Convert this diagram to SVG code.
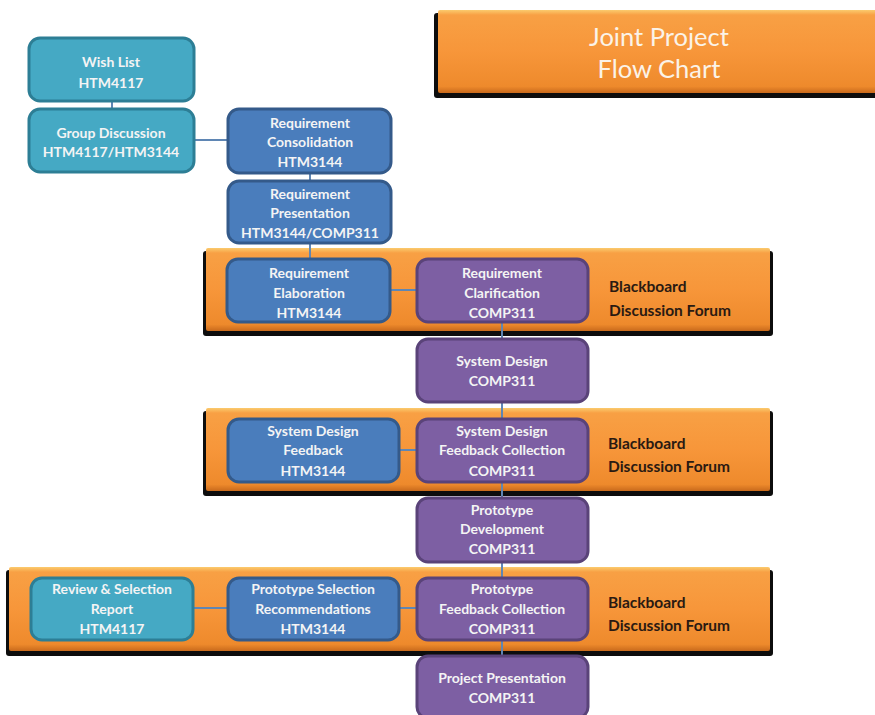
<svg xmlns="http://www.w3.org/2000/svg" width="875" height="715" viewBox="0 0 875 715">
<defs>
<linearGradient id="orange" x1="0" y1="0" x2="0" y2="1">
<stop offset="0" stop-color="#FBCB6E"/>
<stop offset="0.06" stop-color="#F8A044"/>
<stop offset="0.5" stop-color="#F7963A"/>
<stop offset="0.92" stop-color="#EE8A2C"/>
<stop offset="1" stop-color="#C96A1C"/>
</linearGradient>
</defs>
<style>
.shadow{fill:#0d0d0d}
.band{fill:url(#orange)}
.teal{fill:#45A9C4;stroke:#2D7E95;stroke-width:3}
.blue{fill:#4A7DBC;stroke:#345A8A;stroke-width:3}
.purple{fill:#7D5FA3;stroke:#5A4379;stroke-width:3}
.t{font-family:Lato,"Liberation Sans",sans-serif;font-weight:bold;font-size:14px;fill:#F4F4F4;text-anchor:middle;dominant-baseline:central}
.bb{font-family:Lato,"Liberation Sans",sans-serif;font-weight:bold;font-size:15.5px;fill:#2A1A12;dominant-baseline:central}
.title{font-family:Lato,"Liberation Sans",sans-serif;font-size:25.5px;fill:#FBF3E8;text-anchor:middle;dominant-baseline:central}
.c{stroke:#5F86B4;stroke-width:2;fill:none}
</style>

<g id="title">
<rect class="shadow" x="434" y="13" width="450" height="85" rx="3"/>
<rect class="band" x="438" y="10" width="445" height="83" rx="2"/>
<text class="title" x="659" y="36">Joint Project</text>
<text class="title" x="659" y="68">Flow Chart</text>
</g>

<g id="band1">
<rect class="shadow" x="203" y="251" width="570" height="85" rx="3"/>
<rect class="band" x="206" y="248" width="564" height="83" rx="2"/>
<text class="bb" x="609" y="286">Blackboard</text>
<text class="bb" x="609" y="310">Discussion Forum</text>
</g>
<g id="band2">
<rect class="shadow" x="203" y="411" width="570" height="85" rx="3"/>
<rect class="band" x="206" y="408" width="564" height="83" rx="2"/>
<text class="bb" x="608" y="443">Blackboard</text>
<text class="bb" x="608" y="466">Discussion Forum</text>
</g>
<g id="band3">
<rect class="shadow" x="6" y="570" width="767" height="86" rx="3"/>
<rect class="band" x="9" y="567" width="761" height="84" rx="2"/>
<text class="bb" x="608" y="602">Blackboard</text>
<text class="bb" x="608" y="625">Discussion Forum</text>
</g>

<g id="connectors">
<line class="c" x1="112" y1="101" x2="112" y2="109"/>
<line class="c" x1="195" y1="140" x2="227" y2="140"/>
<line class="c" x1="310" y1="173" x2="310" y2="180"/>
<line class="c" x1="310" y1="243" x2="310" y2="258"/>
<line class="c" x1="391" y1="290" x2="416" y2="290"/>
<line class="c" x1="502" y1="322" x2="502" y2="338"/>
<line class="c" x1="502" y1="402" x2="502" y2="418"/>
<line class="c" x1="400" y1="450" x2="416" y2="450"/>
<line class="c" x1="502" y1="482" x2="502" y2="497"/>
<line class="c" x1="502" y1="562" x2="502" y2="577"/>
<line class="c" x1="194" y1="608" x2="227" y2="608"/>
<line class="c" x1="400" y1="608" x2="416" y2="608"/>
<line class="c" x1="502" y1="640" x2="502" y2="655"/>
</g>

<g id="wish-list">
<rect class="teal" x="29" y="38" width="165" height="63" rx="11"/>
<text class="t" x="111" y="61">Wish List</text>
<text class="t" x="111" y="82">HTM4117</text>
</g>
<g id="group-discussion">
<rect class="teal" x="29" y="109" width="165" height="63" rx="11"/>
<text class="t" x="111" y="132">Group Discussion</text>
<text class="t" x="111" y="151">HTM4117/HTM3144</text>
</g>
<g id="req-consolidation">
<rect class="blue" x="228" y="109" width="163" height="64" rx="11"/>
<text class="t" x="310" y="122">Requirement</text>
<text class="t" x="310" y="141">Consolidation</text>
<text class="t" x="310" y="161">HTM3144</text>
</g>
<g id="req-presentation">
<rect class="blue" x="228" y="181" width="163" height="62" rx="11"/>
<text class="t" x="310" y="193">Requirement</text>
<text class="t" x="310" y="212">Presentation</text>
<text class="t" x="310" y="232">HTM3144/COMP311</text>
</g>
<g id="req-elaboration">
<rect class="blue" x="227" y="259" width="163" height="63" rx="11"/>
<text class="t" x="309" y="272">Requirement</text>
<text class="t" x="309" y="292">Elaboration</text>
<text class="t" x="309" y="312">HTM3144</text>
</g>
<g id="req-clarification">
<rect class="purple" x="417" y="259" width="171" height="63" rx="11"/>
<text class="t" x="502" y="272">Requirement</text>
<text class="t" x="502" y="292">Clarification</text>
<text class="t" x="502" y="312">COMP311</text>
</g>
<g id="system-design">
<rect class="purple" x="417" y="339" width="171" height="63" rx="11"/>
<text class="t" x="502" y="360">System Design</text>
<text class="t" x="502" y="380">COMP311</text>
</g>
<g id="sd-feedback">
<rect class="blue" x="228" y="419" width="171" height="63" rx="11"/>
<text class="t" x="313" y="430">System Design</text>
<text class="t" x="313" y="449">Feedback</text>
<text class="t" x="313" y="470">HTM3144</text>
</g>
<g id="sd-feedback-collection">
<rect class="purple" x="417" y="419" width="171" height="63" rx="11"/>
<text class="t" x="502" y="430">System Design</text>
<text class="t" x="502" y="449">Feedback Collection</text>
<text class="t" x="502" y="470">COMP311</text>
</g>
<g id="prototype-development">
<rect class="purple" x="417" y="498" width="171" height="64" rx="11"/>
<text class="t" x="502" y="509">Prototype</text>
<text class="t" x="502" y="528">Development</text>
<text class="t" x="502" y="548">COMP311</text>
</g>
<g id="review-selection">
<rect class="teal" x="31" y="578" width="162" height="62" rx="11"/>
<text class="t" x="112" y="588">Review &amp; Selection</text>
<text class="t" x="112" y="608">Report</text>
<text class="t" x="112" y="628">HTM4117</text>
</g>
<g id="prototype-selection">
<rect class="blue" x="228" y="578" width="171" height="62" rx="11"/>
<text class="t" x="313" y="588">Prototype Selection</text>
<text class="t" x="313" y="608">Recommendations</text>
<text class="t" x="313" y="628">HTM3144</text>
</g>
<g id="prototype-feedback-collection">
<rect class="purple" x="417" y="578" width="171" height="62" rx="11"/>
<text class="t" x="502" y="588">Prototype</text>
<text class="t" x="502" y="608">Feedback Collection</text>
<text class="t" x="502" y="628">COMP311</text>
</g>
<g id="project-presentation">
<rect class="purple" x="417" y="656" width="171" height="62" rx="11"/>
<text class="t" x="502" y="677">Project Presentation</text>
<text class="t" x="502" y="697">COMP311</text>
</g>
</svg>
